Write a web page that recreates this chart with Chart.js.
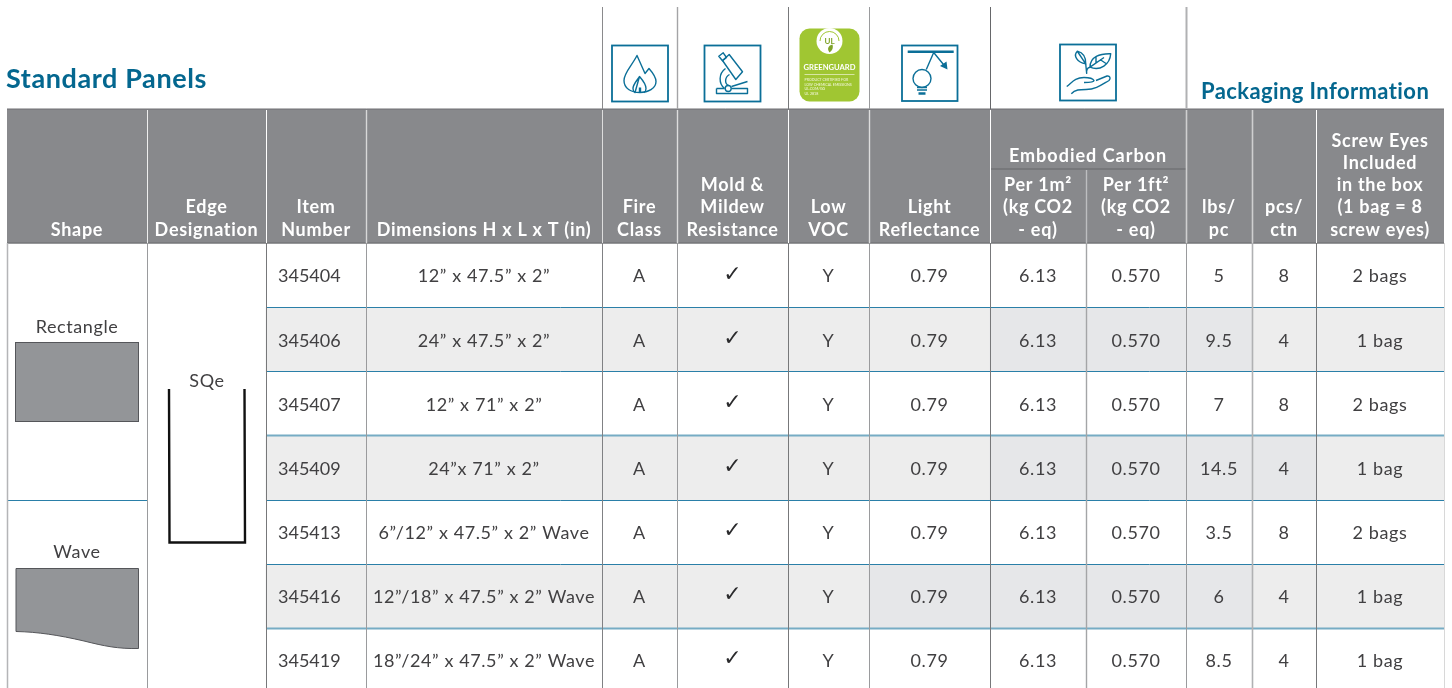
<!DOCTYPE html>
<html>
<head>
<meta charset="utf-8">
<title>Standard Panels</title>
<style>
  html, body { margin: 0; padding: 0; background: #fff; overflow: hidden; height: 688px; }
  canvas { display: block; }
</style>
</head>
<body>
<canvas id="panels" width="1452" height="693"></canvas>
<script src="https://cdn.jsdelivr.net/npm/chart.js@4"></script>
<script>
// table values
const itemNumbers = ["345404", "345406", "345407", "345409", "345413", "345416", "345419"];
const dimensions = ["12” x 47.5” x 2”", "24” x 47.5” x 2”", "12” x 71” x 2”", "24”x 71” x 2”",
    "6”/12” x 47.5” x 2” Wave", "12”/18” x 47.5” x 2” Wave", "18”/24” x 47.5” x 2” Wave"];
const fireClass = ["A", "A", "A", "A", "A", "A", "A"];
const moldResistance = ["✓", "✓", "✓", "✓", "✓", "✓", "✓"];
const lowVoc = ["Y", "Y", "Y", "Y", "Y", "Y", "Y"];
const lightReflectance = ["0.79", "0.79", "0.79", "0.79", "0.79", "0.79", "0.79"];
const carbonPerM2 = ["6.13", "6.13", "6.13", "6.13", "6.13", "6.13", "6.13"];
const carbonPerFt2 = ["0.570", "0.570", "0.570", "0.570", "0.570", "0.570", "0.570"];
const lbsPerPc = ["5", "9.5", "7", "14.5", "3.5", "6", "8.5"];
const pcsPerCtn = ["8", "4", "8", "4", "8", "4", "4"];
const screwEyes = ["2 bags", "1 bag", "2 bags", "1 bag", "2 bags", "1 bag", "1 bag"];

const headerLabels = [
    ["Shape"], ["Edge", "Designation"], ["Item", "Number"], ["Dimensions H x L x T (in)"],
    ["Fire", "Class"], ["Mold &", "Mildew", "Resistance"], ["Low", "VOC"], ["Light", "Reflectance"],
    ["Per 1m²", "(kg CO2", "- eq)"], ["Per 1ft²", "(kg CO2", "- eq)"],
    ["lbs/", "pc"], ["pcs/", "ctn"], ["Screw Eyes", "Included", "in the box", "(1 bag = 8", "screw eyes)"]
];

// which rows are striped, and which columns (from, to) get the darker tint
const stripedRows = [false, true, false, true, false, true, false];
const darkColumns = [null, [8, 11], null, [8, 12], null, [7, 11], null];

// layout, in scale units
const colEdges = [7, 147, 266, 366, 602, 677, 788, 869, 990, 1086, 1186, 1252, 1316, 1444];
const headerTop = 109, headerBottom = 243, carbonRule = 169;

const BLUE = "#04678f";
const GREY = "#88898c";
const INK = "#414042";
const BODY_FONT = '18px Lato, "DejaVu Sans"';
const HEAD_FONT = 'bold 18px Lato';

function text(ctx, str, x, y, font, color, align, spacing) {
    ctx.font = font;
    ctx.fillStyle = color;
    ctx.textAlign = align || "center";
    ctx.textBaseline = "alphabetic";
    ctx.letterSpacing = spacing || "0px";
    ctx.fillText(str, x, y);
    ctx.letterSpacing = "0px";
}

function line(ctx, x1, y1, x2, y2, color, w) {
    ctx.strokeStyle = color;
    ctx.lineWidth = w;
    ctx.beginPath();
    ctx.moveTo(x1, y1);
    ctx.lineTo(x2, y2);
    ctx.stroke();
}

function icon(ctx, px, py, size, paths) {
    ctx.save();
    ctx.translate(px, py);
    ctx.strokeStyle = "#0b6f98";
    ctx.lineWidth = 1.8;
    ctx.strokeRect(0, 0, size, size);
    ctx.lineWidth = 1.4;
    ctx.lineJoin = "round";
    paths.forEach(d => ctx.stroke(new Path2D(d)));
    ctx.restore();
}

function drawIcons(ctx, X) {
    icon(ctx, X(612), 45.5, 56, [
        "M25 10 L33 28 L37 23 Q44 31 44 36 C44 43 36 47 28 47 C19 47 12 43 12 35 C12 27 20 20 25 10 Z",
        "M27.5 31 C31 35 34 39 34 43 Q34 46 32 47 M23 47 Q21 46 21 43 C21 39 25 35 27.5 31 Z",
        "M27.5 42 V47 M28.5 42 V47"
    ]);
    icon(ctx, X(704.5), 45.5, 56, [
        "M18 15 L24.7 9 L38 26.3 L31.3 34 Z",
        "M14.3 10.7 L18.7 7.3 L22 12 L18 15.3 Z",
        "M21 23 C14 28 14 38 20 43 M25 29 C20 32 20 38 24 40",
        "M12 43 H20 M27 43 H43 V48 H12 V43 M27 41 L43 36",
        "M26.7 43 A3 3 0 1 1 20.7 43 A3 3 0 1 1 26.7 43"
    ]);
    icon(ctx, X(902), 45.5, 55.5, [
        "M31.7 7 L24.3 24 M31.7 7 L43.3 21.3",
        "M29 33 A9 9 0 1 1 11 33 A9 9 0 1 1 29 33",
        "M15 42 H25 M15 44.5 H25"
    ]);
    ctx.save();
    ctx.translate(X(902), 45.5);
    line(ctx, 5.7, 6.3, 51.7, 6.3, "#0b6f98", 2.5);
    line(ctx, 16.5, 48, 23.5, 48, "#0b6f98", 2.5);
    ctx.fillStyle = "#0b6f98";
    ctx.fill(new Path2D("M45.5 24 L38 20.5 L44.5 16 Z"));
    ctx.restore();
    icon(ctx, X(1060), 44.5, 56, [
        "M50.7 9.3 C40 9 30 12 30 22.7 C40 27 50 20 50.7 9.3 Z M30 22.7 L44 13 M36 18 V12 M40 15 L46 19",
        "M17.3 6.7 C13 11 17 18 25.7 19.3 C26 12 22 8 17.3 6.7 Z M17.5 7 L25.7 19.3",
        "M26.7 29.3 C26 24 28 23 30 22.7 M25.7 19.3 L26.7 29.3",
        "M6.7 42 C12 38 15 33 24 33 C30 33 33 34 34 36 C34 38 28 38 24 38 M36 36 L47 31.5 C50 31 51 34 49 36 C42 40 36 45 26 45 C20 45 15 45 11.3 49.3"
    ]);

    // greenguard badge
    ctx.save();
    ctx.translate(X(799.5), 28.5);
    ctx.fillStyle = "#a0c632";
    ctx.beginPath();
    ctx.roundRect(0, 0, 60, 73, 10);
    ctx.fill();
    ctx.fillStyle = "#fff";
    ctx.beginPath();
    ctx.arc(30, 12.5, 13, 0, Math.PI * 2);
    ctx.fill();
    ctx.strokeStyle = "#a0c632";
    ctx.lineWidth = 1;
    ctx.beginPath();
    ctx.arc(30, 12.5, 9.5, Math.PI, 0);
    ctx.stroke();
    text(ctx, "UL", 30, 15, "bold 8px Lato", "#7fa32a");
    ctx.fillStyle = "#7fa32a";
    ctx.fill(new Path2D("M30 24 C27 20 29 17 33 16 C34 19 33 22 30 24 Z"));
    text(ctx, "GREENGUARD", 30, 41, "bold 7.6px Lato", "#fff");
    line(ctx, 5, 46, 55, 46, "#e4efc0", 0.8);
    ["PRODUCT CERTIFIED FOR", "LOW CHEMICAL EMISSIONS", "UL.COM/GG", "UL 2818"].forEach((s, i) => {
        text(ctx, s, 5, 52.5 + i * 4.6, "3.6px Lato", "#f4f8e0", "left");
    });
    ctx.restore();
}

function drawShapes(ctx, X) {
    // rectangle swatch
    ctx.fillStyle = "#939598";
    ctx.strokeStyle = "#55565a";
    ctx.lineWidth = 1;
    ctx.fillRect(X(15.5), 342.5, 123, 79);
    ctx.strokeRect(X(15.5), 342.5, 123, 79);
    // wave swatch
    const wave = new Path2D("M16 568.5 H138.5 V648.5 C118 649 104 646 84 641 C58 635 38 632 16 631.5 Z");
    ctx.save();
    ctx.translate(X(0), 0);
    ctx.fill(wave);
    ctx.stroke(wave);
    ctx.restore();
    // SQe edge profile
    ctx.strokeStyle = "#111";
    ctx.lineWidth = 2.4;
    ctx.beginPath();
    ctx.moveTo(X(169), 389);
    ctx.lineTo(X(169.5), 542.5);
    ctx.lineTo(X(245), 542.5);
    ctx.lineTo(X(244.5), 389);
    ctx.stroke();
}

const tablePlugin = {
    id: "tablePlugin",
    afterDatasetsDraw(chart) {
        const ctx = chart.ctx;
        const X = v => chart.scales.x.getPixelForValue(v);
        const yScale = chart.scales.y;
        const rowY = i => yScale.getPixelForValue(i);
        const rowH = rowY(1) - rowY(0);
        const bottom = chart.chartArea.bottom;
        const right = X(colEdges[13]);

        // header band
        ctx.fillStyle = GREY;
        ctx.fillRect(X(colEdges[0]), headerTop, right - X(colEdges[0]), headerBottom - headerTop);
        line(ctx, X(colEdges[0]), headerTop, right, headerTop, "#6e6f72", 1);
        line(ctx, X(colEdges[0]), headerBottom, right, headerBottom, "#757679", 1.5);
        line(ctx, X(990), carbonRule, X(1186), carbonRule, "#77787b", 2);

        // blue row rules
        itemNumbers.forEach((n, i) => {
            if (i === 0) return;
            const thick = i === 3 || i === 6;
            const y = Math.floor(rowY(i) - rowH / 2) + 0.5;
            line(ctx, X(266), y, right, y, thick ? "#76acc4" : "#2a7fa8", thick ? 1.8 : 1);
        });
        line(ctx, X(7), 500.5, X(147), 500.5, "#2a7fa8", 1);

        // body verticals
        const bodyRules = [[7, "#b4b5b7", 1.5], [147, "#9a9b9d", 1], [266, "#77787a", 1], [366, "#9a9b9d", 1],
            [602, "#808184", 1], [677, "#9a9b9d", 1], [788, "#77787a", 1], [869, "#9a9b9d", 1],
            [990, "#77787a", 1], [1086, "#a4a5a7", 1.4], [1186, "#9a9b9d", 1], [1252, "#b0b1b3", 1.6],
            [1316, "#77787a", 1], [1444, "#d8d8d8", 1]];
        bodyRules.forEach(r => line(ctx, X(r[0]) + 0.5, headerBottom, X(r[0]) + 0.5, bottom, r[1], r[2]));

        // header separators and the rules above the header
        const headRules = [[147, "#eeeeee", 1], [266, "#ffffff", 1], [366, "#d8d8d8", 1.4], [602, "#dddddd", 1],
            [677, "#dddddd", 1.4], [788, "#ffffff", 1], [869, "#dddddd", 1.4], [990, "#ffffff", 1],
            [1186, "#cfcfd0", 1.6], [1252, "#cfcfd0", 1.6], [1316, "#ffffff", 1]];
        headRules.forEach(r => line(ctx, X(r[0]) + 0.5, headerTop + 1, X(r[0]) + 0.5, headerBottom, r[1], r[2]));
        line(ctx, X(1086) + 0.5, carbonRule + 1, X(1086) + 0.5, headerBottom, "#bdbec0", 1.4);
        const topRules = [[602, "#8a8a8c", 1], [677, "#a4a4a6", 1.4], [788, "#77787a", 1], [869, "#9a9b9d", 1],
            [990, "#66676a", 1], [1186, "#b0b1b3", 2]];
        topRules.forEach(r => line(ctx, X(r[0]) + 0.5, 7, X(r[0]) + 0.5, headerTop, r[1], r[2]));

        // titles
        text(ctx, "Standard Panels", X(6), 88, "bold 27px Lato", BLUE, "left", "0.6px");
        text(ctx, "Packaging Information", X(1201), 98.5, "bold 22px Lato", BLUE, "left", "0.4px");

        // header labels, last line sits on the same baseline
        headerLabels.forEach((lines, c) => {
            const cx = X((colEdges[c] + colEdges[c + 1]) / 2);
            lines.forEach((s, i) => {
                const y = 235.5 - (lines.length - 1 - i) * 22.2;
                text(ctx, s, cx, y, HEAD_FONT, "#fff", "center", "0.7px");
            });
        });
        text(ctx, "Embodied Carbon", X(1088), 162, HEAD_FONT, "#fff", "center", "1px");

        // body cells
        const columns = [dimensions, fireClass, moldResistance, lowVoc, lightReflectance,
            carbonPerM2, carbonPerFt2, lbsPerPc, pcsPerCtn, screwEyes];
        itemNumbers.forEach((n, r) => {
            const y = rowY(r) + 6.8;
            text(ctx, n, X(278), y, BODY_FONT, INK, "left");
            columns.forEach((col, c) => {
                const cx = X((colEdges[c + 3] + colEdges[c + 4]) / 2);
                if (col === moldResistance) {
                    text(ctx, col[r], cx, rowY(r) + 5, '22px "DejaVu Sans"', "#2b2b2d");
                } else {
                    text(ctx, col[r], cx, y, BODY_FONT, INK, "center", "0.6px");
                }
            });
        });

        // merged cells
        text(ctx, "Rectangle", X(77), 333, BODY_FONT, INK, "center", "0.6px");
        text(ctx, "Wave", X(77), 558, BODY_FONT, INK, "center", "0.6px");
        text(ctx, "SQe", X(207), 387, BODY_FONT, INK, "center", "0.6px");
        drawShapes(ctx, X);
        drawIcons(ctx, X);
    }
};

new Chart(document.getElementById("panels"), {
    type: "bar",
    data: {
        labels: itemNumbers,
        datasets: [
            {
                data: darkColumns.map(s => s && [colEdges[s[0]], colEdges[s[1]]]),
                backgroundColor: "#e6e7e9",
                order: 1
            },
            {
                data: stripedRows.map(on => on ? [colEdges[2], colEdges[13]] : null),
                backgroundColor: "#ededed",
                order: 2
            }
        ]
    },
    options: {
        indexAxis: "y",
        responsive: false,
        animation: false,
        grouped: false,
        categoryPercentage: 1,
        barPercentage: 1,
        layout: { padding: { top: 243.5, bottom: 0.5, left: 0, right: 0 } },
        scales: {
            x: { type: "linear", min: 0, max: 1452, display: false },
            y: { display: false }
        },
        plugins: { legend: { display: false }, tooltip: { enabled: false } }
    },
    plugins: [tablePlugin]
});
</script>
</body>
</html>
